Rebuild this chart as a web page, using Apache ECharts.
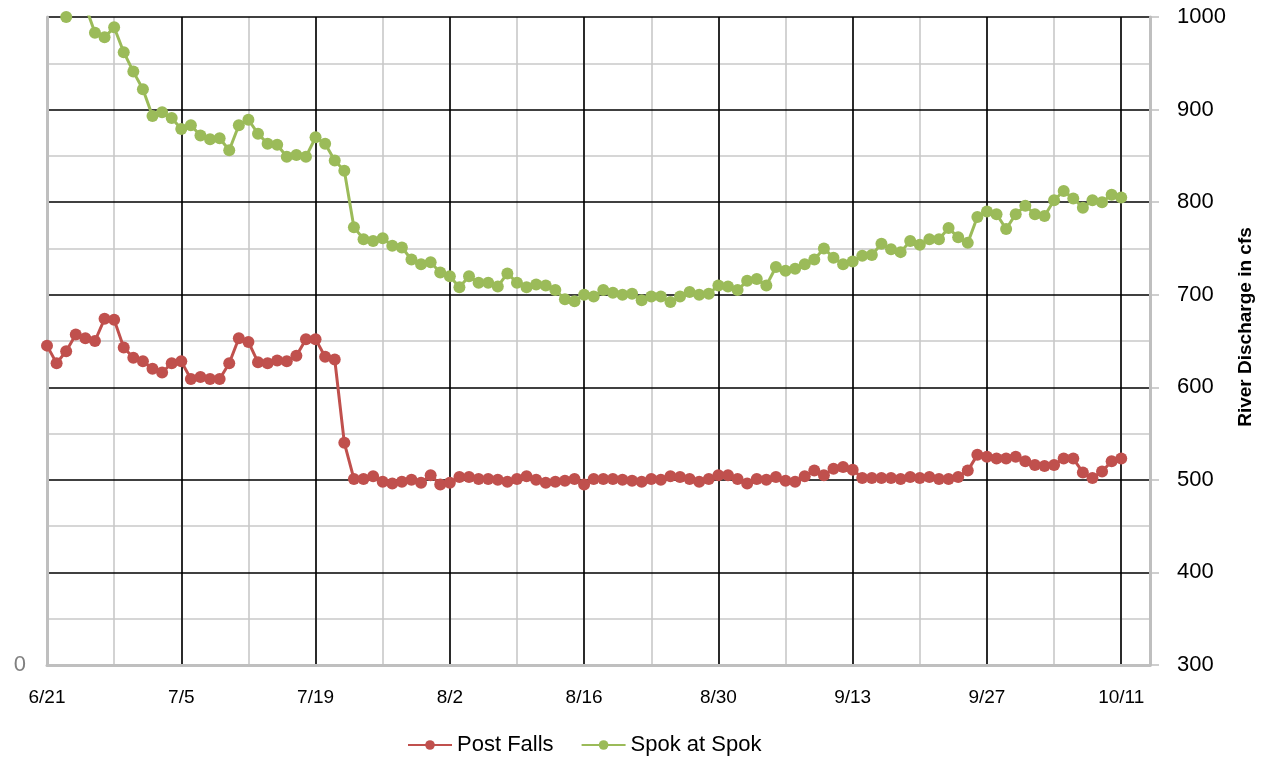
<!DOCTYPE html>
<html>
<head>
<meta charset="utf-8">
<script src="https://cdn.jsdelivr.net/npm/echarts@6/dist/echarts.min.js"></script>
<style>
html,body{margin:0;padding:0;background:#fff;overflow:hidden;}
#chart{width:1264px;height:762px;}
</style>
</head>
<body>
<div id="chart"></div>
<script>
// x tick labels every 14 days starting 6/21 (day index 0)
const tickLabels = ['6/21','7/5','7/19','8/2','8/16','8/30','9/13','9/27','10/11'];
const seriesNames = ['Post Falls', 'Spok at Spok'];

// daily values 6/21 .. 10/11 (113 days), cfs
const postFalls = [
  645, 626, 639, 657, 653, 650, 674, 673, 643, 632, 628, 620, 616, 626, 628, 609, 611, 609, 609, 626,
  653, 649, 627, 626, 629, 628, 634, 652, 652, 633, 630, 540, 501,
  501, 504, 498, 496, 498, 500, 497, 505, 495, 497, 503, 503, 501, 501, 500, 498, 501, 504, 500, 497,
  498, 499, 501, 495, 501, 501, 501, 500, 499, 498, 501, 500, 504, 503, 501, 498, 501, 505, 505, 501, 496, 501,
  500, 503, 499, 498, 504, 510, 505, 512, 514, 511, 502, 502, 502, 502, 501, 503, 502, 503, 501, 501,
  503, 510, 527, 525, 523, 523, 525, 520, 516, 515, 516, 523, 523, 508, 502, 509, 520, 523
];
const spok = [
  null, null, 1000, 1025, 1012,
  983, 978, 989, 962, 941, 922, 893, 897, 891, 879, 883, 872, 868, 869, 856, 883, 889, 874, 863, 862,
  849, 851, 849, 870, 863, 845,
  834, 773, 760, 758, 761, 753, 751, 738, 733, 735, 724, 720, 708, 720, 713, 713, 709, 723, 713, 708,
  711, 710, 705, 695, 693, 700, 698, 705, 702,
  700, 701, 694, 698, 698, 692, 698, 703, 700, 701, 710, 709, 705, 715, 717, 710, 730, 726, 728, 733,
  738, 750, 740, 733, 736, 742, 743, 755, 749,
  746, 758, 754, 760, 760, 772, 762, 756, 784, 790, 787, 771, 787, 796, 787, 785, 802, 812, 804, 794,
  802, 800, 808, 805
];

const toPairs = arr => arr.map((v, i) => [i, v]);
const FONT = '"Liberation Sans", Arial, sans-serif';

const chart = echarts.init(document.getElementById('chart'), null, {renderer: 'canvas'});
chart.setOption({
  animation: false,
  backgroundColor: '#ffffff',
  grid: {left: 47, right: 114, top: 17, bottom: 97, containLabel: false, outerBoundsMode: 'none'},
  legend: {
    bottom: 1, left: 402,
    itemWidth: 44, itemHeight: 12, itemGap: 27,
    textStyle: {fontFamily: FONT, fontSize: 22, color: '#000'},
    data: seriesNames
  },
  xAxis: [{
    type: 'value', min: 0, max: 115, interval: 14,
    axisLine: {show: true, onZero: false, lineStyle: {color: '#bfbfbf', width: 3}},
    axisTick: {show: false},
    axisLabel: {
      fontFamily: FONT, fontSize: 19, color: '#000', margin: 23,
      showMaxLabel: false,
      formatter: v => (v % 14 === 0 && tickLabels[v / 14] !== undefined) ? tickLabels[v / 14] : ''
    },
    splitLine: {show: true, showMinLine: false, showMaxLine: false, lineStyle: {color: '#000', width: 1.6}}
  }, {
    type: 'value', min: 0, max: 115, interval: 7, z: -1,
    axisLine: {show: false}, axisTick: {show: false}, axisLabel: {show: false},
    splitLine: {show: true, showMinLine: false, showMaxLine: false, lineStyle: {color: '#c8c8c8', width: 1.6}}
  }],
  yAxis: [{
    type: 'value', position: 'left', min: 300, max: 1000, interval: 100,
    axisLine: {show: true, onZero: false, lineStyle: {color: '#bfbfbf', width: 3}},
    axisTick: {show: false},
    axisLabel: {
      fontFamily: FONT, fontSize: 22, color: '#808080', margin: 21,
      formatter: v => v === 300 ? '0' : ''
    },
    splitLine: {show: true, showMinLine: false, lineStyle: {color: '#000', width: 1.6}},
    minorTick: {show: false, splitNumber: 2},
    minorSplitLine: {show: true, lineStyle: {color: '#c8c8c8', width: 1.6}}
  }, {
    type: 'value', position: 'right', min: 300, max: 1000, interval: 100,
    name: 'River Discharge in cfs', nameLocation: 'middle', nameGap: 86, nameRotate: 90,
    nameMoveOverlap: false,
    nameTextStyle: {fontFamily: FONT, fontSize: 19, fontWeight: 'bold', color: '#000', padding: [0, 0, 0, 28]},
    axisLine: {show: true, onZero: false, lineStyle: {color: '#bfbfbf', width: 3}},
    axisTick: {show: true, inside: false, length: 9, lineStyle: {color: '#bfbfbf', width: 1.5}},
    axisLabel: {fontFamily: FONT, fontSize: 22, color: '#000', margin: 27, formatter: v => String(v)},
    splitLine: {show: false}
  }],
  series: [{
    name: seriesNames[0], type: 'line', xAxisIndex: 0, yAxisIndex: 1,
    data: toPairs(postFalls), clip: true,
    symbol: 'circle', symbolSize: 12, showSymbol: true,
    itemStyle: {color: '#C0504D'},
    lineStyle: {color: '#C0504D', width: 3},
    emphasis: {disabled: true}
  }, {
    name: seriesNames[1], type: 'line', xAxisIndex: 0, yAxisIndex: 1,
    data: toPairs(spok), clip: true, connectNulls: false,
    symbol: 'circle', symbolSize: 12, showSymbol: true,
    itemStyle: {color: '#9BBB59'},
    lineStyle: {color: '#9BBB59', width: 3},
    emphasis: {disabled: true}
  }]
});
</script>
</body>
</html>
